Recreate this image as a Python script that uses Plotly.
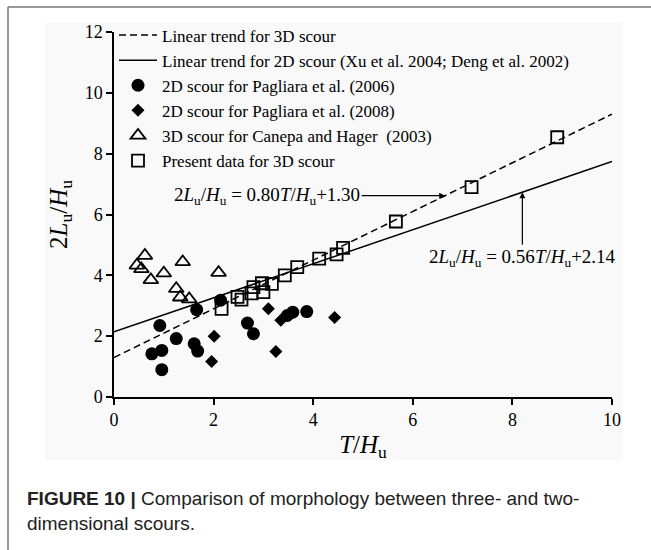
import plotly.graph_objects as go

# ---- data ----
circle_x = [0.92, 0.76, 0.96, 0.96, 1.25, 1.61, 1.68, 1.66, 2.14, 2.68, 2.80, 3.48, 3.59, 3.87]
circle_y = [2.35, 1.42, 1.53, 0.90, 1.92, 1.75, 1.51, 2.87, 3.18, 2.43, 2.08, 2.68, 2.79, 2.81]

diamond_x = [2.01, 1.96, 3.10, 3.25, 3.35, 4.43]
diamond_y = [2.00, 1.17, 2.90, 1.50, 2.52, 2.61]

triangle_x = [0.46, 0.62, 0.55, 0.74, 1.00, 1.38, 1.25, 1.33, 1.51, 2.10]
triangle_y = [4.33, 4.65, 4.21, 3.85, 4.07, 4.44, 3.56, 3.28, 3.22, 4.09]

square_x = [2.16, 2.48, 2.56, 2.76, 2.80, 2.97, 3.00, 3.17, 3.43, 3.68, 4.12, 4.47, 4.60, 5.66, 7.18, 8.90]
square_y = [2.90, 3.29, 3.20, 3.41, 3.61, 3.74, 3.45, 3.72, 4.00, 4.27, 4.55, 4.69, 4.90, 5.77, 6.90, 8.54]

trend_x = [0, 10]
trend3d = (0.80, 1.30)   # slope, intercept
trend2d = (0.56, 2.14)

x_ticks = [0, 2, 4, 6, 8, 10]
y_ticks = [0, 2, 4, 6, 8, 10, 12]

SERIF = "Liberation Serif"
SANS = "Liberation Sans"

fig = go.Figure()

fig.add_trace(go.Scatter(
    x=trend_x, y=[trend3d[0] * v + trend3d[1] for v in trend_x],
    mode="lines", name="Linear trend for 3D scour",
    line=dict(color="black", width=1.5, dash="7px,4px")))
fig.add_trace(go.Scatter(
    x=trend_x, y=[trend2d[0] * v + trend2d[1] for v in trend_x],
    mode="lines", name="Linear trend for 2D scour (Xu et al. 2004; Deng et al. 2002)",
    line=dict(color="black", width=1.5)))
fig.add_trace(go.Scatter(
    x=circle_x, y=circle_y, mode="markers", name="2D scour for Pagliara et al. (2006)",
    marker=dict(symbol="circle", size=13, color="black")))
fig.add_trace(go.Scatter(
    x=diamond_x, y=diamond_y, mode="markers", name="2D scour for Pagliara et al. (2008)",
    marker=dict(symbol="diamond", size=10, color="black")))
fig.add_trace(go.Scatter(
    x=triangle_x, y=triangle_y, mode="markers", name="3D scour for Canepa and Hager  (2003)",
    marker=dict(symbol="triangle-up-open", size=13, color="black", line=dict(width=1.8))))
fig.add_trace(go.Scatter(
    x=square_x, y=square_y, mode="markers", name="Present data for 3D scour",
    marker=dict(symbol="square-open", size=12, color="black", line=dict(width=1.8))))

W, H = 651, 550
L, R, T, B = 114, 39, 31.5, 153.3
pw, ph = W - L - R, H - T - B


def px(xp):
    return (xp - L) / pw


def py(yp):
    return (H - B - yp) / ph


shapes = [
    # light grey image background
    dict(type="rect", xref="paper", yref="paper", x0=px(45), x1=px(622), y0=py(460), y1=py(22),
         fillcolor="#f9f9f9", line=dict(width=0), layer="below"),
    # frame lines
    dict(type="line", xref="paper", yref="paper", x0=px(8), x1=px(651), y0=py(6.5), y1=py(6.5),
         line=dict(color="#777777", width=1.5)),
    dict(type="line", xref="paper", yref="paper", x0=px(8), x1=px(8), y0=py(6.5), y1=py(550),
         line=dict(color="#777777", width=1.5)),
]

x3 = 6.65
x2 = 8.2
annotations = [
    dict(x=x3, y=trend3d[0] * x3 + trend3d[1], xref="x", yref="y",
         text="2<i>L</i><sub>u</sub>/<i>H</i><sub>u</sub> = 0.80<i>T</i>/<i>H</i><sub>u</sub>+1.30",
         showarrow=True, ax=-178, ay=0, arrowhead=2, arrowsize=1, arrowwidth=1.2,
         arrowcolor="black", standoff=0, font=dict(family=SERIF, size=19, color="black")),
    dict(x=x2, y=trend2d[0] * x2 + trend2d[1], xref="x", yref="y",
         text="2<i>L</i><sub>u</sub>/<i>H</i><sub>u</sub> = 0.56<i>T</i>/<i>H</i><sub>u</sub>+2.14",
         showarrow=True, ax=0, ay=66, arrowhead=2, arrowsize=1, arrowwidth=1.2,
         arrowcolor="black", standoff=0, font=dict(family=SERIF, size=19, color="black")),
    dict(xref="paper", yref="paper", x=px(25), y=py(511), xanchor="left", yanchor="middle",
         align="left", showarrow=False,
         text="<b>FIGURE 10 |</b> Comparison of morphology between three- and two-<br>dimensional scours.",
         font=dict(family=SANS, size=19, color="#222222")),
]

fig.update_layout(
    width=W, height=H,
    margin=dict(l=L, r=R, t=T, b=B, autoexpand=False),
    paper_bgcolor="white", plot_bgcolor="#f9f9f9",
    font=dict(family=SERIF, color="black"),
    showlegend=True,
    legend=dict(x=0.0, y=py(17), xanchor="left", yanchor="top",
                bgcolor="rgba(0,0,0,0)", font=dict(family=SERIF, size=17, color="black"),
                itemwidth=38, traceorder="normal"),
    shapes=shapes, annotations=annotations,
    xaxis=dict(range=[0, 10], tickvals=x_ticks, showgrid=False, zeroline=False,
               showline=True, linecolor="black", linewidth=1.5,
               ticks="outside", ticklen=6, tickwidth=1.5, tickcolor="black",
               tickfont=dict(family=SERIF, size=18, color="black"),
               title=dict(text="<i>T</i>/<i>H</i><sub>u</sub>", standoff=6,
                          font=dict(family=SERIF, size=25, color="black"))),
    yaxis=dict(range=[0, 12], tickvals=y_ticks, showgrid=False, zeroline=False,
               showline=True, linecolor="black", linewidth=1.5,
               ticks="outside", ticklen=6, tickwidth=1.5, tickcolor="black",
               tickfont=dict(family=SERIF, size=18, color="black"),
               title=dict(text="2<i>L</i><sub>u</sub>/<i>H</i><sub>u</sub>", standoff=10,
                          font=dict(family=SERIF, size=25, color="black"))),
)

fig.write_html("out.html")
